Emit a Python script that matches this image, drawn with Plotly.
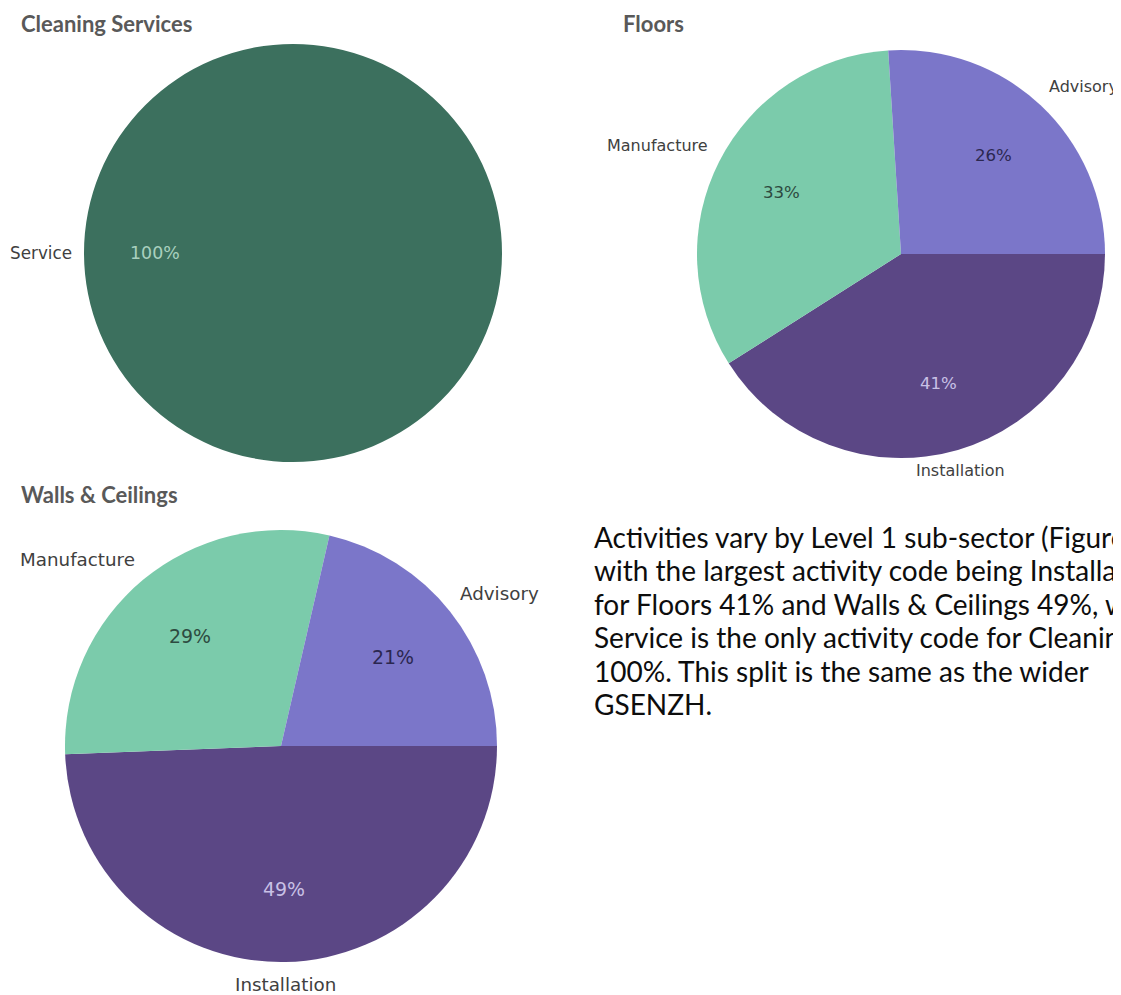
import math
import plotly.graph_objects as go

W, H = 1121, 995

# ---- data (in drawing order: clockwise from 3 o'clock) ----
cleaning_labels = ["Service"]
cleaning_values = [100]

floors_labels = ["Installation", "Manufacture", "Advisory"]
floors_values = [41, 33, 26]

walls_labels = ["Installation", "Manufacture", "Advisory"]
walls_values = [49.4, 29.2, 21.4]

titles = ["Cleaning Services", "Floors", "Walls & Ceilings"]

body_lines = [
    "Activities vary by Level 1 sub-sector (Figure 1),",
    "with the largest activity code being Installation",
    "for Floors 41% and Walls & Ceilings 49%, while",
    "Service is the only activity code for Cleaning",
    "100%. This split is the same as the wider",
    "GSENZH.",
]

# ---- styles ----
color_map = {
    "Service": "#3C705E",
    "Advisory": "#7B76C9",
    "Manufacture": "#7BCBAB",
    "Installation": "#5B4785",
}
pct_color = {
    "Service": "#A9D0BF",
    "Advisory": "#2B2750",
    "Manufacture": "#2D4A40",
    "Installation": "#C9C1E6",
}
label_font = "DejaVu Sans, Verdana, sans-serif"
text_font = "Lato, Open Sans, sans-serif"

OFF = 8  # page offset of the figure inside the browser


def X(px):
    return (px - OFF) / W


def Y(py):
    return 1 - (py - OFF) / H


fig = go.Figure()
annotations = []

# (center x, center y, radius, label font size) in pixels
pies = [
    (cleaning_labels, cleaning_values, (293, 253, 209, 16.8)),
    (floors_labels, floors_values, (901, 254, 204, 16)),
    (walls_labels, walls_values, (281, 746, 216, 18.3)),
]

for labels, values, (cx, cy, r, fs) in pies:
    fig.add_trace(go.Pie(
        labels=labels, values=values,
        domain=dict(x=[X(cx - r), X(cx + r)], y=[Y(cy + r), Y(cy - r)]),
        sort=False, direction="clockwise", rotation=90,
        marker=dict(colors=[color_map[l] for l in labels], line=dict(width=0)),
        textinfo="none", showlegend=False, hoverinfo="label+percent",
    ))
    total = sum(values)
    cum = 0.0
    for lab, v in zip(labels, values):
        frac = v / total
        ang = math.radians(-(cum + frac / 2) * 360)
        cum += frac
        c, s = math.cos(ang), math.sin(ang)
        # percentage inside the slice
        rp = 0.66 * r
        annotations.append(dict(
            text=f"{round(frac * 100)}%", x=X(cx + rp * c), y=Y(cy - rp * s),
            xref="paper", yref="paper", xanchor="center", yanchor="middle",
            showarrow=False,
            font=dict(family=label_font, size=fs + 0.6, color=pct_color[lab]),
        ))
        # category label outside the slice
        ro = r + 11
        xa = "left" if c > 0.35 else ("right" if c < -0.35 else "center")
        ya = "bottom" if s > 0.35 else ("top" if s < -0.35 else "middle")
        annotations.append(dict(
            text=lab, x=X(cx + ro * c), y=Y(cy - ro * s),
            xref="paper", yref="paper", xanchor=xa, yanchor=ya,
            showarrow=False, borderpad=0,
            font=dict(family=label_font, size=fs, color="#404040"),
        ))

title_pos = [(19, 24), (621, 24), (19, 494)]
for t, (x, y) in zip(titles, title_pos):
    annotations.append(dict(
        text=f"<b>{t}</b>", x=X(x), y=Y(y), xref="paper", yref="paper",
        xanchor="left", yanchor="middle", showarrow=False,
        font=dict(family=text_font, size=22, color="#595959"),
    ))

line_y0, line_dy = 537, 33.4
for i, line in enumerate(body_lines):
    annotations.append(dict(
        text=line, x=X(592), y=Y(line_y0 + i * line_dy),
        xref="paper", yref="paper", xanchor="left", yanchor="middle",
        showarrow=False,
        font=dict(family=text_font, size=28, color="#0D0D0D"),
    ))

fig.update_layout(
    width=W, height=H,
    margin=dict(l=0, r=0, t=0, b=0, autoexpand=False),
    paper_bgcolor="white", plot_bgcolor="white",
    annotations=annotations,
)

fig.write_html("out.html")
